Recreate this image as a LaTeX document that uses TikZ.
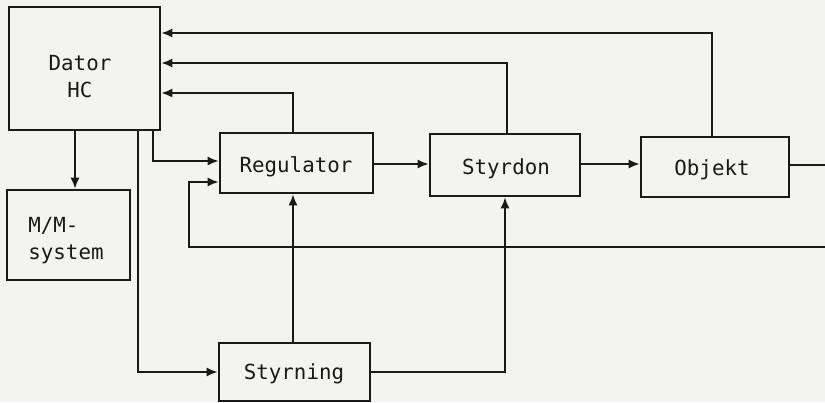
\documentclass[tikz,border=0pt]{standalone}
\usepackage{fontspec}
\setmonofont{DejaVu Sans Mono}
\usetikzlibrary{arrows.meta}
\definecolor{paper}{RGB}{243,243,241}
\definecolor{ink}{RGB}{25,25,25}
\begin{document}
\begin{tikzpicture}[x=1pt,y=-1pt,
  blk/.style={draw=ink, line width=2.6pt, rectangle, inner sep=0pt},
  txt/.style={text=ink, font=\ttfamily\fontsize{20.8}{27}\selectfont, inner sep=0pt},
  conn/.style={draw=ink, line width=1.9pt},
  arr/.style={conn, -{Latex[length=11pt,width=9pt]}}]
\fill[paper] (0,0) rectangle (825,402);
\useasboundingbox (0,0) rectangle (825,402);
% boxes
\node[blk, minimum width=151pt, minimum height=123pt] (dator) at (84.5,68.5) {};
\node[txt, align=center] (datortxt) at (80,77) {Dator\\HC};
\node[blk, minimum width=123pt, minimum height=90pt] (mm) at (68.5,235) {};
\node[txt, align=left] (mmtxt) at (66,241) {M/M-\\system};
\node[blk, minimum width=153pt, minimum height=60pt] (regulator) at (296.5,163) {};
\node[txt] (regtxt) at (296,167) {Regulator};
\node[blk, minimum width=150pt, minimum height=62pt] (styrdon) at (505,165) {};
\node[txt] (stdtxt) at (506,169) {Styrdon};
\node[blk, minimum width=148pt, minimum height=60pt] (objekt) at (715,167) {};
\node[txt] (objtxt) at (712,170) {Objekt};
\node[blk, minimum width=151pt, minimum height=58pt] (styrning) at (294.5,372) {};
\node[txt] (stytxt) at (294,374) {Styrning};
% helper coordinates
\coordinate (x75) at (75,0);
\coordinate (x138) at (138,0);
\coordinate (x153) at (153,0);
\coordinate (x189) at (189,0);
\coordinate (x293) at (293,0);
\coordinate (x505) at (505,0);
\coordinate (x507) at (507,0);
\coordinate (x712) at (712,0);
\coordinate (y33) at (0,33);
\coordinate (y63) at (0,63);
\coordinate (y93) at (0,93);
\coordinate (y161) at (0,161);
\coordinate (y164) at (0,164);
\coordinate (y182) at (0,182);
\coordinate (y247) at (0,247);
\coordinate (y372) at (0,372);
\coordinate (outA) at (825,165);
\coordinate (outB) at (825,247);
% connectors
\draw[arr] (dator.south -| x75) -- (mm.north -| x75);
\draw[arr] (dator.south -| x138) |- (styrning.west);
\draw[arr] (dator.south -| x153) |- (regulator.west |- y161);
\draw[arr] (outB) -- (x189 |- y247) -- (x189 |- y182) -- (regulator.west |- y182);
\draw[conn] (objekt.east |- outA) -- (outA);
\draw[arr] (regulator.east |- y164) -- (styrdon.west |- y164);
\draw[arr] (styrdon.east |- y164) -- (objekt.west |- y164);
\draw[arr] (regulator.north -| x293) |- (dator.east |- y93);
\draw[arr] (styrdon.north -| x507) |- (dator.east |- y63);
\draw[arr] (objekt.north -| x712) |- (dator.east |- y33);
\draw[arr] (styrning.north -| x293) -- (regulator.south -| x293);
\draw[arr] (styrning.east |- y372) -| (styrdon.south -| x505);
\end{tikzpicture}
\end{document}
